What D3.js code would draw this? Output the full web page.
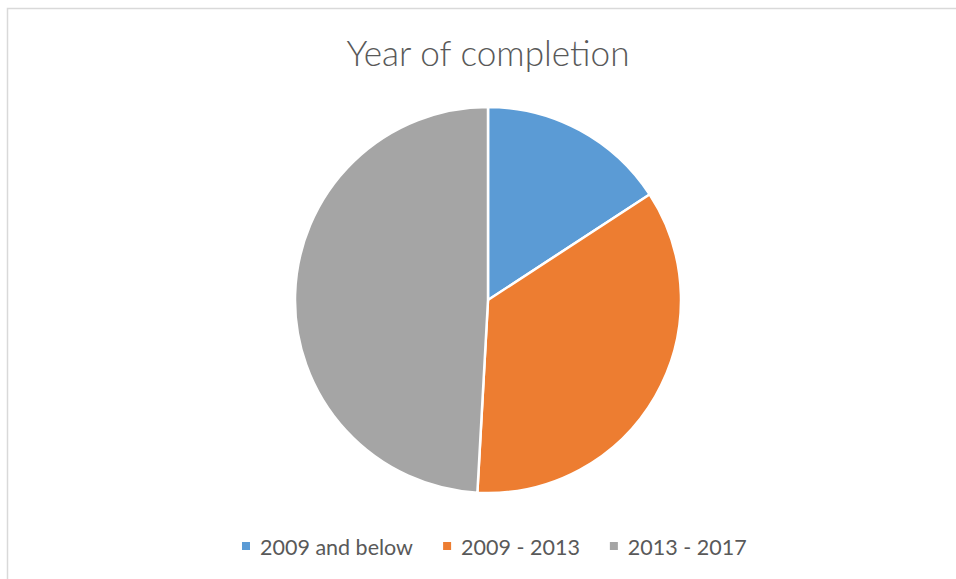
<!DOCTYPE html>
<html>
<head>
<meta charset="utf-8">
<script src="https://cdn.jsdelivr.net/npm/d3@7"></script>
<style>
  html, body { margin: 0; padding: 0; background: #fff; }
  svg { display: block; }
</style>
</head>
<body>
<svg id="chart" width="956" height="579"></svg>
<script>
// Year of completion – respondent counts per period
const categories = ["2009 and below", "2009 - 2013", "2013 - 2017"];
const counts = [9, 20, 28];
const colors = ["#5b9bd5", "#ed7d31", "#a5a5a5"];
const title = "Year of completion";

const svg = d3.select("#chart");
const W = 956, H = 579;
const font = "Lato, 'Open Sans', sans-serif";

// chart area border
svg.append("rect")
  .attr("x", 7.5).attr("y", 8.5)
  .attr("width", W).attr("height", H)
  .attr("fill", "#fff")
  .attr("stroke", "#d9d9d9").attr("stroke-width", 1.5);

svg.append("text")
  .attr("x", 488).attr("y", 66)
  .attr("text-anchor", "middle")
  .attr("font-family", font)
  .attr("font-size", 36)
  .attr("font-weight", 300)
  .attr("fill", "#595959")
  .attr("textLength", 283)
  .attr("lengthAdjust", "spacingAndGlyphs")
  .text(title);

const cx = 488, cy = 300, r = 193;
const pie = d3.pie().sort(null).value(d => d)(counts);
const arc = d3.arc().innerRadius(0).outerRadius(r);

svg.append("g")
  .attr("transform", `translate(${cx},${cy})`)
  .selectAll("path")
  .data(pie)
  .join("path")
  .attr("d", arc)
  .attr("fill", (d, i) => colors[i])
  .attr("stroke", "#fff")
  .attr("stroke-width", 2.5)
  .attr("stroke-linejoin", "round");

// legend laid out horizontally under the pie
const legend = svg.append("g");
const items = legend.selectAll("g")
  .data(categories)
  .join("g");
items.append("rect")
  .attr("width", 8).attr("height", 8)
  .attr("y", -13)
  .attr("fill", (d, i) => colors[i]);
items.append("text")
  .attr("x", 18)
  .attr("y", 0)
  .attr("font-family", font)
  .attr("font-size", 21.5)
  .attr("fill", "#595959")
  .text(d => d);

let x = 0;
const gap = 30;
items.each(function () {
  const g = d3.select(this);
  g.attr("transform", `translate(${x},0)`);
  x += this.getBBox().width + gap;
});
legend.attr("transform", `translate(242,555)`);
</script>
</body>
</html>
